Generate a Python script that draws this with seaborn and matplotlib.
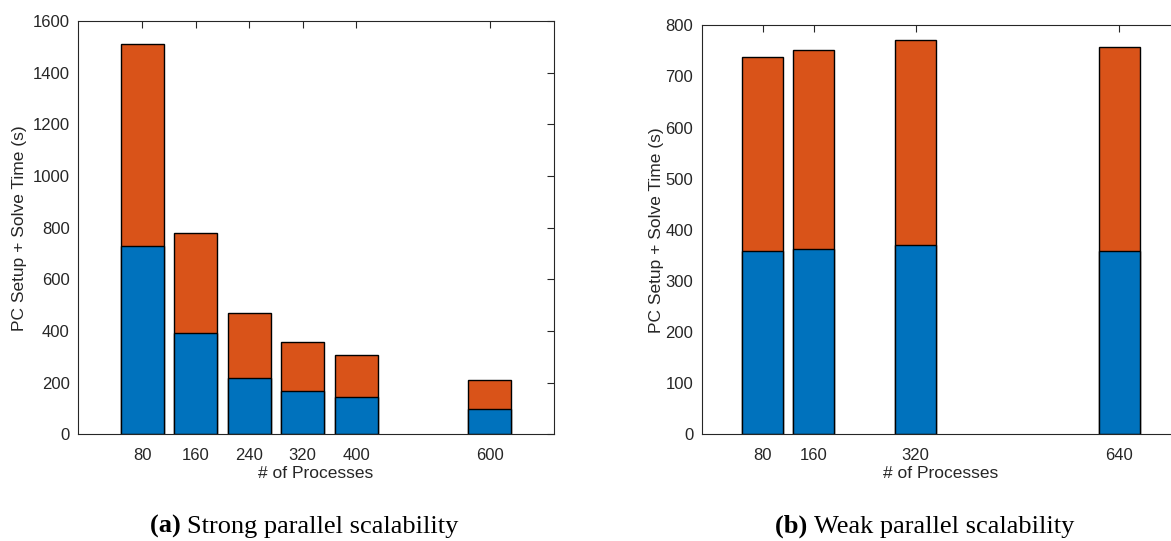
import matplotlib
matplotlib.use("Agg")
import matplotlib.pyplot as plt
import seaborn as sns
import pandas as pd

# ---- data ----
strong_procs = [80, 160, 240, 320, 400, 600]
strong_setup = [728, 391, 220, 168, 144, 97]
strong_solve = [784, 389, 249, 188, 163, 114]

weak_procs = [80, 160, 320, 640]
weak_setup = [358, 362, 371, 358]
weak_solve = [380, 390, 400, 400]

strong_yticks = [0, 200, 400, 600, 800, 1000, 1200, 1400, 1600]
weak_yticks = [0, 100, 200, 300, 400, 500, 600, 700, 800]

ylabel = "PC Setup + Solve Time (s)"
xlabel = "# of Processes"
cap_a = ("(a)", "Strong parallel scalability")
cap_b = ("(b)", "Weak parallel scalability")

BLUE = "#0072BD"
ORANGE = "#D95319"
AXC = "#262626"

sns.set_style("white")
plt.rcParams["font.family"] = ["Liberation Sans", "DejaVu Sans"]

fig = plt.figure(figsize=(11.71, 5.41), dpi=100)
axL = fig.add_axes([0.0666, 0.1969, 0.4065, 0.7643])
axR = fig.add_axes([0.5992, 0.1969, 0.4088, 0.7565])


def draw(ax, procs, setup, solve, yticks, xlim, ylabelpad):
    df = pd.DataFrame({"procs": procs, "setup": setup, "solve": solve})
    df["total"] = df["setup"] + df["solve"]
    sns.barplot(data=df, x="procs", y="total", native_scale=True, color=ORANGE,
                saturation=1, errorbar=None, edgecolor="black", linewidth=1.0,
                width=0.8, ax=ax)
    sns.barplot(data=df, x="procs", y="setup", native_scale=True, color=BLUE,
                saturation=1, errorbar=None, edgecolor="black", linewidth=1.0,
                width=0.8, ax=ax)
    ax.set_xlim(*xlim)
    ax.set_ylim(yticks[0], yticks[-1])
    ax.set_xticks(procs)
    ax.set_xticklabels([str(p) for p in procs])
    ax.set_yticks(yticks)
    ax.set_yticklabels([str(v) for v in yticks])
    ax.tick_params(direction="in", top=True, right=True, length=5, width=0.8,
                   colors=AXC, labelsize=12, pad=6)
    ax.tick_params(axis="x", pad=10)
    for s in ax.spines.values():
        s.set_visible(True)
        s.set_color(AXC)
        s.set_linewidth(0.8)
    ax.set_xlabel(xlabel, fontsize=12.5, color=AXC, labelpad=2)
    ax.set_ylabel(ylabel, fontsize=12.5, color=AXC, labelpad=ylabelpad)
    ax.grid(False)


draw(axL, strong_procs, strong_setup, strong_solve, strong_yticks, (-16, 696), 4)
draw(axR, weak_procs, weak_setup, weak_solve, weak_yticks, (-16, 736), 1)


def caption(x_left, parts):
    fam = ["Liberation Serif", "DejaVu Serif"]
    t1 = fig.text(0, 0, parts[0] + " ", fontsize=19, fontweight="bold",
                  family=fam, va="baseline", color="black")
    t2 = fig.text(0, 0, parts[1], fontsize=19, family=fam, va="baseline",
                  color="black")
    fig.canvas.draw()
    r = fig.canvas.get_renderer()
    w1 = t1.get_window_extent(r).width
    W = fig.bbox.width
    yb = 1 - 533 / 541
    t1.set_position((x_left / W, yb))
    t2.set_position(((x_left + w1) / W, yb))


caption(150, cap_a)
caption(775, cap_b)

fig.savefig("out.png", dpi=100)
